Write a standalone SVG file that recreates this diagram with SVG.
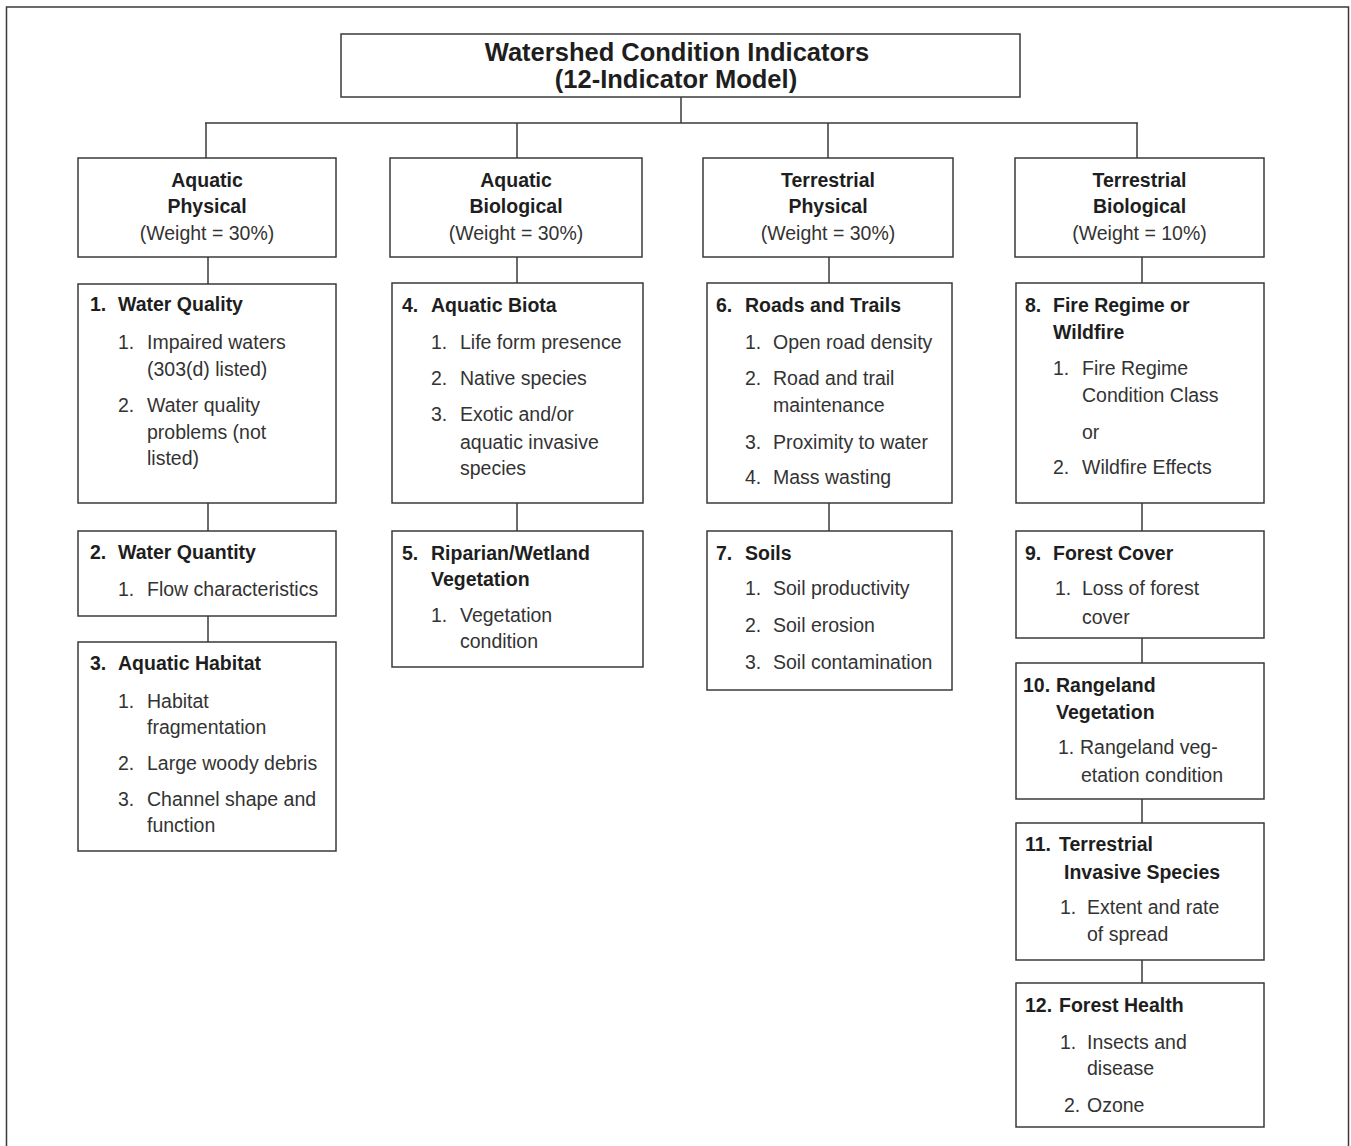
<svg xmlns="http://www.w3.org/2000/svg" width="1351" height="1146" viewBox="0 0 1351 1146">
<style>
rect.b{fill:#fff;stroke:#3a3a3a;stroke-width:1.5}
.c line{stroke:#3a3a3a;stroke-width:1.5}
text{font-family:"Liberation Sans",Arial,sans-serif;font-size:19.5px;fill:#333}
.h{font-weight:bold;fill:#1e1e1e}
.m{text-anchor:middle}
.t{font-size:25.5px}
</style>
<rect x="6.5" y="7" width="1342" height="1160" fill="#fff" stroke="#3a3a3a" stroke-width="1.5"/>
<g id="connectors" class="c">
<line x1="681" y1="97" x2="681" y2="123"/>
<line x1="205" y1="123" x2="1138" y2="123"/>
<line x1="206" y1="123" x2="206" y2="158"/>
<line x1="517" y1="123" x2="517" y2="158"/>
<line x1="828" y1="123" x2="828" y2="158"/>
<line x1="1137" y1="123" x2="1137" y2="158"/>
<line x1="208" y1="257" x2="208" y2="284"/>
<line x1="517" y1="257" x2="517" y2="283"/>
<line x1="829" y1="257" x2="829" y2="283"/>
<line x1="1142" y1="257" x2="1142" y2="283"/>
<line x1="208" y1="503" x2="208" y2="531"/>
<line x1="208" y1="616" x2="208" y2="642"/>
<line x1="517" y1="503" x2="517" y2="531"/>
<line x1="829" y1="503" x2="829" y2="531"/>
<line x1="1142" y1="503" x2="1142" y2="531"/>
<line x1="1142" y1="638" x2="1142" y2="663"/>
<line x1="1142" y1="799" x2="1142" y2="823"/>
<line x1="1142" y1="960" x2="1142" y2="983"/>
</g>
<g id="root">
<rect class="b" x="341" y="34" width="679" height="63"/>
<text class="h m t" x="677" y="61">Watershed Condition Indicators</text>
<text class="h m t" x="676" y="88">(12-Indicator Model)</text>
</g>
<g id="aquatic-physical">
<rect class="b" x="78" y="158" width="258" height="99"/>
<text class="h m" x="207" y="187">Aquatic</text>
<text class="h m" x="207" y="213">Physical</text>
<text class="m" x="207" y="240">(Weight = 30%)</text>
</g>
<g id="aquatic-biological">
<rect class="b" x="390" y="158" width="252" height="99"/>
<text class="h m" x="516" y="187">Aquatic</text>
<text class="h m" x="516" y="213">Biological</text>
<text class="m" x="516" y="240">(Weight = 30%)</text>
</g>
<g id="terrestrial-physical">
<rect class="b" x="703" y="158" width="250" height="99"/>
<text class="h m" x="828" y="187">Terrestrial</text>
<text class="h m" x="828" y="213">Physical</text>
<text class="m" x="828" y="240">(Weight = 30%)</text>
</g>
<g id="terrestrial-biological">
<rect class="b" x="1015" y="158" width="249" height="99"/>
<text class="h m" x="1139.5" y="187">Terrestrial</text>
<text class="h m" x="1139.5" y="213">Biological</text>
<text class="m" x="1139.5" y="240">(Weight = 10%)</text>
</g>
<g id="n1">
<rect class="b" x="78" y="284" width="258" height="219"/>
<text class="h" x="90" y="311">1.</text><text class="h" x="118" y="311">Water Quality</text>
<text x="118" y="349">1.</text><text x="147" y="349">Impaired waters</text>
<text x="147" y="376">(303(d) listed)</text>
<text x="118" y="412">2.</text><text x="147" y="412">Water quality</text>
<text x="147" y="439">problems (not</text>
<text x="147" y="465">listed)</text>
</g>
<g id="n2">
<rect class="b" x="78" y="531" width="258" height="85"/>
<text class="h" x="90" y="559">2.</text><text class="h" x="118" y="559">Water Quantity</text>
<text x="118" y="596">1.</text><text x="147" y="596">Flow characteristics</text>
</g>
<g id="n3">
<rect class="b" x="78" y="642" width="258" height="209"/>
<text class="h" x="90" y="670">3.</text><text class="h" x="118" y="670">Aquatic Habitat</text>
<text x="118" y="708">1.</text><text x="147" y="708">Habitat</text>
<text x="147" y="734">fragmentation</text>
<text x="118" y="770">2.</text><text x="147" y="770">Large woody debris</text>
<text x="118" y="806">3.</text><text x="147" y="806">Channel shape and</text>
<text x="147" y="832">function</text>
</g>
<g id="n4">
<rect class="b" x="392" y="283" width="251" height="220"/>
<text class="h" x="402" y="312">4.</text><text class="h" x="431" y="312">Aquatic Biota</text>
<text x="431" y="349">1.</text><text x="460" y="349">Life form presence</text>
<text x="431" y="385">2.</text><text x="460" y="385">Native species</text>
<text x="431" y="421">3.</text><text x="460" y="421">Exotic and/or</text>
<text x="460" y="449">aquatic invasive</text>
<text x="460" y="475">species</text>
</g>
<g id="n5">
<rect class="b" x="392" y="531" width="251" height="136"/>
<text class="h" x="402" y="560">5.</text><text class="h" x="431" y="560">Riparian/Wetland</text>
<text class="h" x="431" y="586">Vegetation</text>
<text x="431" y="622">1.</text><text x="460" y="622">Vegetation</text>
<text x="460" y="648">condition</text>
</g>
<g id="n6">
<rect class="b" x="707" y="283" width="245" height="220"/>
<text class="h" x="716" y="312">6.</text><text class="h" x="745" y="312">Roads and Trails</text>
<text x="745" y="349">1.</text><text x="773" y="349">Open road density</text>
<text x="745" y="385">2.</text><text x="773" y="385">Road and trail</text>
<text x="773" y="412">maintenance</text>
<text x="745" y="449">3.</text><text x="773" y="449">Proximity to water</text>
<text x="745" y="484">4.</text><text x="773" y="484">Mass wasting</text>
</g>
<g id="n7">
<rect class="b" x="707" y="531" width="245" height="159"/>
<text class="h" x="716" y="560">7.</text><text class="h" x="745" y="560">Soils</text>
<text x="745" y="595">1.</text><text x="773" y="595">Soil productivity</text>
<text x="745" y="632">2.</text><text x="773" y="632">Soil erosion</text>
<text x="745" y="669">3.</text><text x="773" y="669">Soil contamination</text>
</g>
<g id="n8">
<rect class="b" x="1016" y="283" width="248" height="220"/>
<text class="h" x="1025" y="312">8.</text><text class="h" x="1053" y="312">Fire Regime or</text>
<text class="h" x="1053" y="339">Wildfire</text>
<text x="1053" y="375">1.</text><text x="1082" y="375">Fire Regime</text>
<text x="1082" y="402">Condition Class</text>
<text x="1082" y="439">or</text>
<text x="1053" y="474">2.</text><text x="1082" y="474">Wildfire Effects</text>
</g>
<g id="n9">
<rect class="b" x="1016" y="531" width="248" height="107"/>
<text class="h" x="1025" y="560">9.</text><text class="h" x="1053" y="560">Forest Cover</text>
<text x="1055" y="595">1.</text><text x="1082" y="595">Loss of forest</text>
<text x="1082" y="624">cover</text>
</g>
<g id="n10">
<rect class="b" x="1016" y="663" width="248" height="136"/>
<text class="h" x="1023" y="692">10.</text><text class="h" x="1056" y="692">Rangeland</text>
<text class="h" x="1056" y="719">Vegetation</text>
<text x="1058" y="754">1.</text><text x="1080" y="754">Rangeland veg-</text>
<text x="1081" y="782">etation condition</text>
</g>
<g id="n11">
<rect class="b" x="1016" y="823" width="248" height="137"/>
<text class="h" x="1025" y="851">11.</text><text class="h" x="1059" y="851">Terrestrial</text>
<text class="h" x="1064" y="879">Invasive Species</text>
<text x="1060" y="914">1.</text><text x="1087" y="914">Extent and rate</text>
<text x="1087" y="941">of spread</text>
</g>
<g id="n12">
<rect class="b" x="1016" y="983" width="248" height="144"/>
<text class="h" x="1025" y="1012">12.</text><text class="h" x="1059" y="1012">Forest Health</text>
<text x="1060" y="1049">1.</text><text x="1087" y="1049">Insects and</text>
<text x="1087" y="1075">disease</text>
<text x="1064" y="1112">2.</text><text x="1087" y="1112">Ozone</text>
</g>
</svg>
